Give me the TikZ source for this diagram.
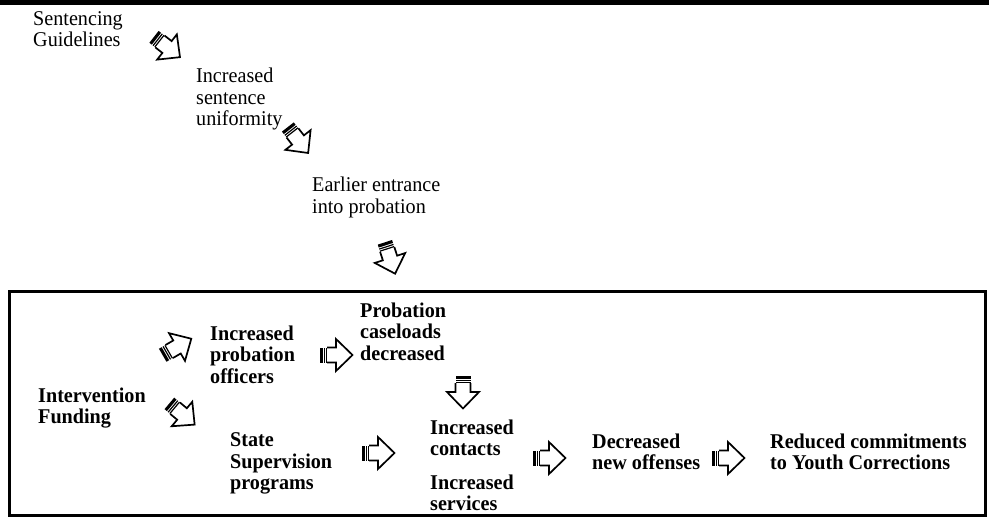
\documentclass[tikz,border=0pt]{standalone}
\usepackage{fontspec}
\setmainfont{Liberation Serif}[FakeStretch=0.96]
\begin{document}
\begin{tikzpicture}[x=1pt,y=-1pt,
  lbl/.style={anchor=north west, inner sep=0pt, align=left,
    font=\fontsize{21}{21.5}\selectfont},
  blbl/.style={lbl, font=\fontsize{21}{21.5}\selectfont\bfseries},
  % striped block arrow pointing along +x, centred on the origin
  stripedarrow/.pic={
    \fill (-16.5pt,-7.5pt) rectangle (-13.4pt,7.5pt);
    \fill (-12.4pt,-7.5pt) rectangle (-11.2pt,7.5pt);
    \fill (-10.2pt,-7.5pt) rectangle (-9pt,7.5pt);
    \draw[line width=1.7pt, line join=miter]
      (-9pt,7.5pt) -- (0pt,7.5pt) -- (0pt,16pt) -- (16.5pt,0pt)
      -- (0pt,-16pt) -- (0pt,-7.5pt) -- (-9pt,-7.5pt);
  }]
\useasboundingbox (0,0) rectangle (989,519);

% heavy rule along the top edge
\fill (0,0) rectangle (989,5);

% upper chain
\node[lbl] (sg) at (33,11) {Sentencing\\Guidelines};
\node[lbl] (isu) at (196,68) {Increased\\sentence\\uniformity};
\node[lbl] (eep) at (312,177) {Earlier entrance\\into probation};

\pic[rotate=-38] (a1) at (167,47) {stripedarrow};
\pic[rotate=-52] (a2) at (298,140) {stripedarrow};
\pic[rotate=-72] (a3) at (390,258) {stripedarrow};

% framed lower chain
\draw[line width=3pt] (9.5,291.5) rectangle (985.5,515.5);

\node[blbl] (if) at (38,387.5) {Intervention\\Funding};
\node[blbl] (ipo) at (210,325.5) {Increased\\probation\\officers};
\node[blbl] (pcd) at (360,302.5) {Probation\\caseloads\\decreased};
\node[blbl] (ssp) at (230,432.5) {State\\Supervision\\programs};
\node[blbl] (ic) at (430,419.5) {Increased\\contacts};
\node[blbl] (is) at (430,474.5) {Increased\\services};
\node[blbl] (dno) at (592,433.5) {Decreased\\new offenses};
\node[blbl] (rcy) at (770,433.5) {Reduced commitments\\to Youth Corrections};

\pic[rotate=30] (a4) at (177,347) {stripedarrow};
\pic[rotate=-40] (a5) at (182,414) {stripedarrow};
\pic (a6) at (336,355) {stripedarrow};
\pic[rotate=-90] (a7) at (463,392) {stripedarrow};
\pic (a8) at (378,453) {stripedarrow};
\pic (a9) at (549,458) {stripedarrow};
\pic (a10) at (728,458) {stripedarrow};
\end{tikzpicture}
\end{document}
